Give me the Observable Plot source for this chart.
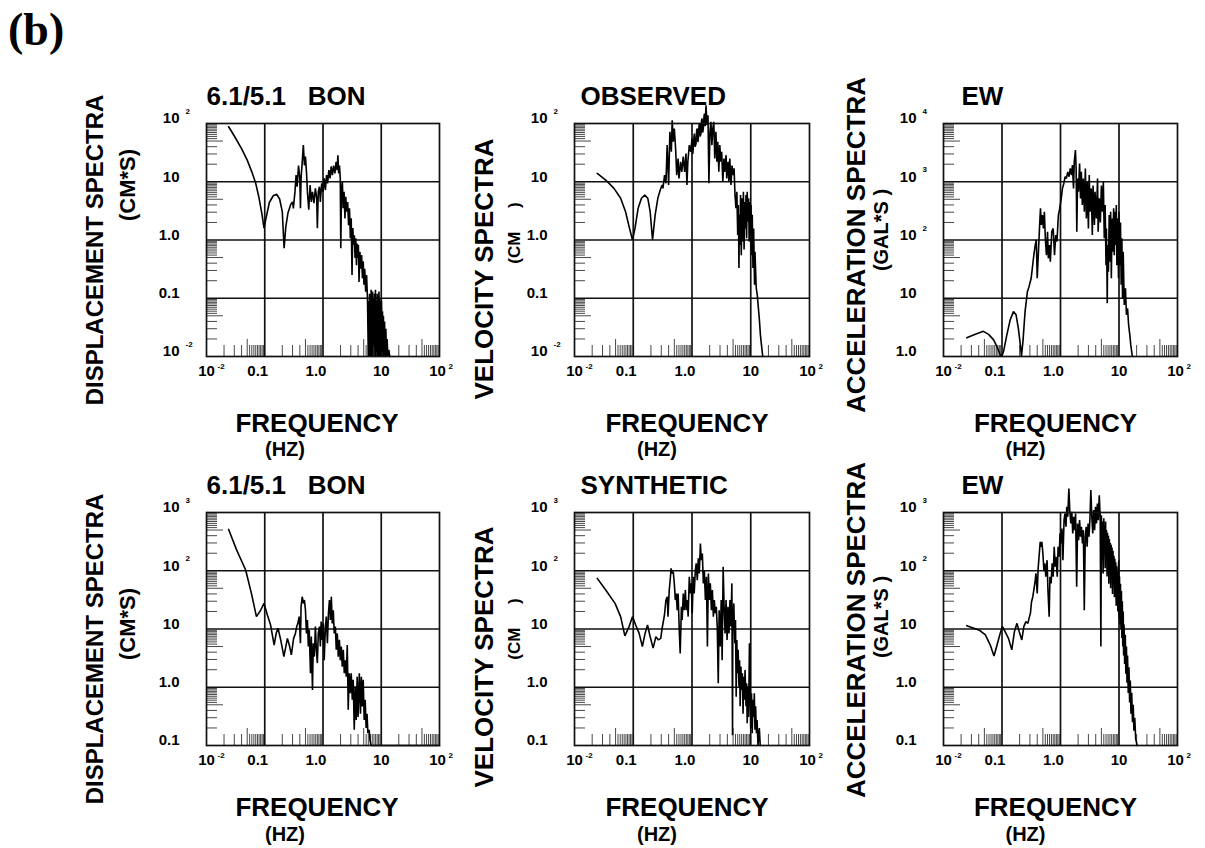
<!DOCTYPE html>
<html><head><meta charset="utf-8">
<script src="https://cdn.jsdelivr.net/npm/d3@7"></script>
<script src="https://cdn.jsdelivr.net/npm/@observablehq/plot@0.6"></script>
<style>
body{margin:0;background:#fff;}
#wrap{position:relative;width:1205px;height:848px;overflow:hidden;background:#fff;font-family:"Liberation Sans",Arial,sans-serif;}
.panel{position:absolute;}
#tag{position:absolute;left:8px;top:0px;font:bold 46px "Liberation Serif","Times New Roman",serif;line-height:60px;}
</style></head><body>
<div id="wrap"><div id="tag">(b)</div></div>
<script>
// ---------- DATA (frequency Hz, amplitude) ----------
const dispObs = [[0.024,88],[0.03,61],[0.04,37],[0.05,23.5],[0.06,14.8],[0.07,9.4],[0.08,5.2],[0.09,2.7],[0.097,1.6],[0.105,2.35],[0.12,4.4],[0.14,5.75],[0.16,6.1],[0.18,5.05],[0.2,3.06],[0.215,0.72],[0.23,1.7],[0.25,2.9],[0.28,4.1],[0.3,4.5],[0.31,3.5],[0.33,6.7],[0.345,13],[0.36,8.2],[0.38,19],[0.4,11.4],[0.41,3.5],[0.42,11.4],[0.44,22],[0.46,42.5],[0.48,19],[0.5,27],[0.52,14.8],[0.54,6.7],[0.57,3.3],[0.6,8.8],[0.63,4.5],[0.66,6.7],[0.7,4.3],[0.74,7.7],[0.78,5.2],[0.8,1.6],[0.83,6.7],[0.87,8.2],[0.9,4.5],[0.95,9.4],[1.0,6.7],[1.05,11.4],[1.1,7.2],[1.15,13],[1.2,9.4],[1.26,15.8],[1.32,11.4],[1.38,18.3],[1.45,13],[1.52,19],[1.6,13.9],[1.68,22],[1.75,15.8],[1.8,28.6],[1.86,13.9],[1.92,19],[1.98,11.4],[2.02,0.72],[2.08,7.2],[2.15,10],[2.22,3.5],[2.3,6.7],[2.38,2.35],[2.46,5.5],[2.55,3.06],[2.65,4.5],[2.75,1.8],[2.85,3.5],[2.95,1.07],[3.05,2.35],[3.15,0.25],[3.25,1.6],[3.35,0.83],[3.45,1.2],[3.55,0.49],[3.65,1.07],[3.75,0.37],[3.85,0.87],[3.95,0.49],[4.05,0.83],[4.15,0.19],[4.3,0.63],[4.45,0.32],[4.6,0.55],[4.75,0.22],[4.9,0.43],[5.05,0.17],[5.2,0.32],[5.4,0.13],[5.6,0.25],[5.8,0.1],[6.0,0.01],[6.1,0.09],[6.2,0.01],[6.3,0.12],[6.4,0.012],[6.5,0.1],[6.6,0.01],[6.7,0.14],[6.8,0.02],[6.9,0.11],[7.0,0.01],[7.1,0.13],[7.2,0.01],[7.35,0.1],[7.5,0.015],[7.65,0.12],[7.8,0.01],[7.95,0.14],[8.1,0.01],[8.25,0.09],[8.4,0.012],[8.55,0.12],[8.7,0.01],[8.85,0.11],[9.0,0.01],[9.15,0.13],[9.3,0.015],[9.45,0.1],[9.6,0.01],[9.75,0.08],[9.9,0.01],[10.1,0.09],[10.3,0.012],[10.5,0.06],[10.7,0.01],[10.9,0.05],[11.1,0.01],[11.4,0.04],[11.7,0.01],[12.0,0.03],[12.3,0.01],[12.6,0.02],[13.0,0.01],[13.5,0.013],[14.0,0.01]];

const velObs = [[0.0244,13.9],[0.034,10.7],[0.047,7.7],[0.061,5.2],[0.074,3.06],[0.085,1.7],[0.097,1.0],[0.107,1.58],[0.121,3.5],[0.138,5.2],[0.157,5.9],[0.177,5.2],[0.194,3.06],[0.213,1.0],[0.236,2.7],[0.262,5.2],[0.288,7.2],[0.31,8.8],[0.32,7.7],[0.341,13],[0.36,9.4],[0.378,42.5],[0.4,8.8],[0.42,72],[0.445,32.7],[0.46,114],[0.48,48.5],[0.5,82],[0.526,37],[0.55,13],[0.58,25],[0.6,11.4],[0.64,22],[0.67,14.8],[0.71,27],[0.75,14.8],[0.79,30.6],[0.82,8.8],[0.85,22],[0.9,42.5],[0.95,32.7],[1.0,55],[1.03,30],[1.05,37],[1.08,60],[1.1,67],[1.13,40],[1.17,45],[1.2,75],[1.23,82],[1.26,48],[1.28,55],[1.32,95],[1.35,100],[1.38,60],[1.42,67],[1.45,110],[1.48,122],[1.52,70],[1.56,82],[1.6,130],[1.63,148],[1.68,90],[1.73,206],[1.8,94],[1.87,139],[1.94,9.4],[2.02,72],[2.1,107],[2.18,42.5],[2.26,82],[2.35,107],[2.44,25],[2.55,72],[2.65,22],[2.75,48.5],[2.86,14.8],[2.97,42.5],[3.1,22],[3.2,32.7],[3.35,10],[3.5,25],[3.6,14.8],[3.8,28.6],[3.9,11.4],[4.1,22],[4.25,10],[4.4,25],[4.6,8.8],[4.8,19],[5.0,13],[5.2,17],[5.4,5.9],[5.6,3.5],[5.8,6.7],[6.0,1.22],[6.15,4.0],[6.3,0.33],[6.4,2.7],[6.6,0.82],[6.7,5.9],[6.9,0.55],[7.1,5.2],[7.3,0.94],[7.5,6.7],[7.7,0.69],[7.9,4.5],[8.1,1.58],[8.3,5.9],[8.5,1.07],[8.7,6.7],[9.0,2.06],[9.2,5.2],[9.4,0.94],[9.7,4.5],[9.9,1.22],[10.1,4.0],[10.4,0.55],[10.6,2.7],[10.9,0.33],[11.2,1.58],[11.6,0.17],[11.8,0.63],[12.4,0.15],[12.9,0.114],[13.5,0.067],[14.1,0.04],[14.6,0.0235],[15.2,0.016],[16.0,0.01]];

const accObs = [[0.025,2.1],[0.035,2.4],[0.048,2.7],[0.059,2.4],[0.072,1.93],[0.082,1.48],[0.093,1.07],[0.099,1.0],[0.107,1.26],[0.121,2.35],[0.138,4.25],[0.157,5.9],[0.174,5.2],[0.19,3.06],[0.206,1.58],[0.215,1.0],[0.228,1.8],[0.248,5.9],[0.272,13],[0.29,15.8],[0.315,22],[0.33,32.7],[0.35,55],[0.37,82],[0.386,100],[0.4,22],[0.42,63],[0.44,181],[0.455,349],[0.47,181],[0.49,268],[0.51,158],[0.53,306],[0.55,107],[0.575,55],[0.6,139],[0.62,48.5],[0.65,82],[0.67,42.5],[0.71,139],[0.75,158],[0.79,55],[0.83,122],[0.87,94],[0.92,268],[0.97,349],[1.03,518],[1.08,769],[1.14,935],[1.2,1220],[1.26,1140],[1.33,1480],[1.4,1220],[1.47,1690],[1.55,1300],[1.6,1930],[1.67,769],[1.72,2200],[1.8,3490],[1.85,1690],[1.9,139],[1.96,1140],[2.03,675],[2.12,2060],[2.2,518],[2.27,1480],[2.36,398],[2.45,1140],[2.56,306],[2.66,1690],[2.77,235],[2.88,1000],[3.0,158],[3.1,1300],[3.2,306],[3.35,769],[3.5,122],[3.6,860],[3.8,181],[3.9,675],[4.1,235],[4.3,1140],[4.4,139],[4.6,518],[4.8,200],[5.0,860],[5.2,306],[5.4,1000],[5.6,107],[5.8,398],[6.0,37],[6.1,158],[6.3,8.2],[6.4,82],[6.6,28.6],[6.8,268],[7.0,42.5],[7.2,306],[7.4,22],[7.6,235],[7.8,63],[8.1,349],[8.3,55],[8.5,306],[8.7,82],[9.0,398],[9.2,37],[9.5,235],[9.8,22],[10.0,306],[10.3,37],[10.6,200],[10.9,17],[11.2,107],[11.5,10],[11.8,63],[12.3,7.7],[12.9,14.8],[13.4,5.2],[14.0,6.7],[14.6,3.5],[15.3,2.35],[15.9,1.58],[16.9,1.0]];

const dispSyn = [[0.024,512],[0.033,226],[0.047,103],[0.059,40.8],[0.072,16.3],[0.085,21],[0.097,27.5],[0.111,17.4],[0.126,11.7],[0.145,5.3],[0.157,8.4],[0.169,10.3],[0.188,6.5],[0.213,3.36],[0.245,6.9],[0.268,5.0],[0.286,3.6],[0.313,6.9],[0.336,8.4],[0.354,11],[0.37,12.5],[0.39,16.3],[0.41,5.7],[0.42,24],[0.44,35.8],[0.46,27.5],[0.48,31.4],[0.5,21],[0.52,8.4],[0.54,14.3],[0.56,5.0],[0.58,9.6],[0.61,1.74],[0.63,7.4],[0.66,0.9],[0.68,5.7],[0.71,3.36],[0.74,11],[0.77,4.4],[0.8,2.6],[0.83,8.4],[0.87,11],[0.9,5.0],[0.93,13.4],[0.97,6.5],[1.01,12.5],[1.05,2.9],[1.1,11],[1.14,16.3],[1.19,5.7],[1.24,18.6],[1.29,31.4],[1.34,14.3],[1.39,35.8],[1.44,12.5],[1.5,21],[1.56,8.4],[1.63,11],[1.69,4.4],[1.76,8.4],[1.83,3.36],[1.91,6.5],[1.98,2.9],[2.06,5.0],[2.14,2.26],[2.23,4.4],[2.32,1.74],[2.41,2.9],[2.51,1.52],[2.61,5.3],[2.71,0.41],[2.82,1.74],[2.94,0.79],[3.05,1.74],[3.18,0.61],[3.3,1.34],[3.44,0.186],[3.57,1.03],[3.72,0.275],[3.86,1.52],[4.0,0.31],[4.2,1.74],[4.4,0.35],[4.55,1.52],[4.7,0.47],[4.9,1.34],[5.1,0.275],[5.3,0.61],[5.5,0.2],[5.7,0.35],[5.9,0.163],[6.2,0.186],[6.4,0.125],[6.7,0.1],[100,0.1]];

const velSyn = [[0.0244,74],[0.034,46.7],[0.049,27.5],[0.061,16.3],[0.072,7.6],[0.085,11],[0.097,16.3],[0.11,11.7],[0.126,8.4],[0.143,5.0],[0.159,8.4],[0.175,11.7],[0.191,7.9],[0.218,4.7],[0.243,7.4],[0.268,6.5],[0.294,6.9],[0.31,10.3],[0.34,17.4],[0.36,31.4],[0.38,35.8],[0.39,16.3],[0.41,46.7],[0.43,79],[0.44,110],[0.46,90],[0.48,96],[0.5,60.7],[0.52,31.4],[0.54,40.8],[0.56,21],[0.58,40.8],[0.61,8.4],[0.63,3.8],[0.66,24],[0.68,14.3],[0.71,40.8],[0.74,21],[0.77,46.7],[0.8,21],[0.83,31.4],[0.86,16.3],[0.9,79],[0.94,40.8],[0.97,60.7],[1.01,18.6],[1.05,79],[1.09,40.8],[1.14,103],[1.18,134],[1.23,69],[1.28,163],[1.33,90],[1.39,294],[1.44,152],[1.5,198],[1.56,60.7],[1.62,103],[1.69,31.4],[1.76,79],[1.83,5.0],[1.9,90],[1.98,31.4],[2.05,60.7],[2.14,21],[2.22,46.7],[2.31,16.3],[2.4,31.4],[2.49,18.6],[2.59,24],[2.69,11],[2.8,1.17],[2.9,21],[3.02,5.0],[3.14,31.4],[3.26,2.9],[3.39,117],[3.52,24],[3.66,8.4],[3.8,31.4],[3.95,6.5],[4.1,24],[4.26,8.4],[4.43,31.4],[4.6,11],[4.77,60.7],[4.9,0.15],[4.95,14.3],[5.15,27.5],[5.35,5.7],[5.5,14.3],[5.65,0.69],[5.8,6.5],[5.95,1.74],[6.1,4.4],[6.3,1.03],[6.45,2.9],[6.6,0.47],[6.8,2.26],[7.0,0.9],[7.2,1.74],[7.4,0.35],[7.6,1.52],[7.8,0.61],[8.0,1.98],[8.3,0.47],[8.5,1.17],[8.7,0.24],[9.0,1.03],[9.2,0.31],[9.5,5.7],[9.8,0.79],[10.0,0.2],[10.3,0.79],[10.6,0.163],[10.9,0.61],[11.2,0.31],[11.5,0.79],[11.8,0.186],[12.1,0.47],[12.5,0.163],[12.8,0.275],[13.3,0.1],[14.0,0.2],[14.5,0.1]];

const accSyn = [[0.025,11.4],[0.033,10.3],[0.042,9.4],[0.052,7.9],[0.063,5.3],[0.073,3.44],[0.081,5.0],[0.093,8.4],[0.102,11],[0.113,9.0],[0.129,6.9],[0.147,4.4],[0.163,9.0],[0.18,12.5],[0.197,9.0],[0.218,6.5],[0.236,11],[0.256,13.4],[0.277,12.5],[0.29,15.2],[0.306,18.6],[0.32,29.4],[0.336,35.8],[0.35,46.7],[0.37,69],[0.38,90],[0.4,40.8],[0.415,110],[0.43,174],[0.45,314],[0.465,258],[0.48,314],[0.5,198],[0.52,103],[0.54,134],[0.56,79],[0.59,152],[0.61,46.7],[0.64,16.3],[0.66,79],[0.69,60.7],[0.72,134],[0.75,79],[0.78,258],[0.81,117],[0.84,174],[0.88,79],[0.91,258],[0.95,174],[0.98,437],[1.02,294],[1.06,532],[1.1,152],[1.15,739],[1.19,962],[1.24,568],[1.28,1250],[1.33,843],[1.39,2580],[1.44,1100],[1.5,647],[1.56,1030],[1.62,437],[1.68,843],[1.75,498],[1.81,962],[1.89,53],[1.96,647],[2.04,336],[2.12,739],[2.2,383],[2.28,568],[2.37,294],[2.46,498],[2.55,21],[2.65,383],[2.75,568],[2.85,258],[2.96,647],[3.07,383],[3.18,739],[3.3,2420],[3.43,843],[3.56,437],[3.69,1100],[3.83,498],[3.97,1250],[4.12,647],[4.27,1430],[4.43,739],[4.6,1980],[4.77,843],[4.9,5.0],[5.0,900],[5.1,150],[5.2,700],[5.35,90],[5.5,800],[5.6,200],[5.7,600],[5.8,110],[5.9,700],[6.0,150],[6.1,500],[6.25,80],[6.35,450],[6.5,120],[6.6,400],[6.7,60],[6.85,350],[6.95,90],[7.1,300],[7.2,50],[7.35,280],[7.5,70],[7.6,250],[7.75,40],[7.9,220],[8.05,60],[8.2,180],[8.35,35],[8.5,160],[8.65,45],[8.8,140],[8.95,25],[9.1,120],[9.25,30],[9.4,100],[9.55,20],[9.7,90],[9.9,152],[10.05,15],[10.2,80],[10.4,12],[10.6,60],[10.8,10],[11.0,45],[11.2,7],[11.4,30],[11.6,5],[11.8,20],[12.0,3.5],[12.2,12],[12.5,2.5],[12.8,8],[13.1,1.7],[13.4,5],[13.7,1.2],[14.0,3.5],[14.4,0.8],[14.8,2.2],[15.2,0.55],[15.6,1.3],[16.0,0.35],[16.5,0.8],[17.0,0.25],[17.5,0.5],[18.0,0.18],[18.6,0.3],[19.3,0.13],[20.4,0.1]];

// tick labels: [value, base text, exponent]
const xTickLabels = [[0.01,"10","-2"],[0.1,"0.1",""],[1,"1.0",""],[10,"10",""],[100,"10","2"]];
const ticksE2 = [[0.01,"10","-2"],[0.1,"0.1",""],[1,"1.0",""],[10,"10",""],[100,"10","2"]];
const ticksAccObs = [[1,"1.0",""],[10,"10",""],[100,"10","2"],[1000,"10","3"],[10000,"10","4"]];
const ticksSyn = [[0.1,"0.1",""],[1,"1.0",""],[10,"10",""],[100,"10","2"],[1000,"10","3"]];
const xDomain = [0.01, 100];
const minorMult = [2,3,4,5.5,6,6.5,7,7.5,8,8.5,9,9.5];
const longMult = [5];

const titles = ["6.1/5.1\u00a0\u00a0\u00a0BON","OBSERVED","EW","6.1/5.1\u00a0\u00a0\u00a0BON","SYNTHETIC","EW"];
const yTitles = ["DISPLACEMENT SPECTRA","VELOCITY SPECTRA","ACCELERATION SPECTRA","DISPLACEMENT SPECTRA","VELOCITY SPECTRA","ACCELERATION SPECTRA"];
const units = ["(CM*S)","(CM\u00a0\u00a0\u00a0\u00a0\u00a0)","(GAL*S\u00a0)","(CM*S)","(CM\u00a0\u00a0\u00a0\u00a0\u00a0)","(GAL*S\u00a0)"];
const series = [dispObs, velObs, accObs, dispSyn, velSyn, accSyn];
const yDomains = [[0.01,100],[0.01,100],[1,10000],[0.1,1000],[0.1,1000],[0.1,1000]];
const yTickSets = [ticksE2, ticksE2, ticksAccObs, ticksSyn, ticksSyn, ticksSyn];
const xTitle = "FREQUENCY";
const xUnit = "(HZ)";

// ---------- LAYOUT ----------
const cols = [
  {left:66, mL:140, fw:233, mR:26, yTdx:-111, uDx:-79, tDx:0, fDx:-6, hDx:-38, uSize:22, ySize:24},
  {left:465, mL:109, fw:235, mR:29, yTdx:-90, uDx:-60, tDx:6, fDx:-5, hDx:-35, uSize:17, ySize:26},
  {left:838, mL:105, fw:234, mR:28, yTdx:-87, uDx:-62, tDx:18, fDx:-5, hDx:-35, uSize:20, ySize:26}
];
const rows = [
  {top:78, mT:45, fh:233, mB:111, fDy:75, hDy:99},
  {top:467, mT:45, fh:233, mB:103, fDy:70, hDy:95}
];
const yTitleDy = [10, 29, 5, 20, 28, 1];
const unitDy = [-55, -7, -10, -5, 0, -12];

const wrap = document.getElementById("wrap");
const INK = "#111";

function makePanel(i) {
  const c = cols[i % 3], r = rows[Math.floor(i / 3)];
  const [y0, y1] = yDomains[i];
  const xDec = d3.range(Math.log10(xDomain[0]), Math.log10(xDomain[1])).map(e => Math.pow(10, e));
  const yDec = d3.range(Math.round(Math.log10(y0)), Math.round(Math.log10(y1))).map(e => Math.pow(10, e));
  const xGrid = xDec.slice(1);
  const yGrid = yDec.slice(1);
  const xMinor = xDec.flatMap(d => minorMult.map(m => d * m));
  const xLong = xDec.flatMap(d => longMult.map(m => d * m));
  const yMinor = yDec.flatMap(d => minorMult.map(m => d * m));
  const yLong = yDec.flatMap(d => longMult.map(m => d * m));
  const yt = yTickSets[i];
  const bold = {fontWeight: "bold"};
  const xLabDx = d => d[1].includes(".") ? -7 : (d[0] >= 100 ? -2 : 0);

  const svg = Plot.plot({
    width: c.mL + c.fw + c.mR,
    height: r.mT + r.fh + r.mB,
    marginLeft: c.mL, marginRight: c.mR, marginTop: r.mT, marginBottom: r.mB,
    x: {type: "log", domain: xDomain, axis: null},
    y: {type: "log", domain: [y0, y1], axis: null},
    style: {fontFamily: "'Liberation Sans', Arial, sans-serif", background: "transparent", overflow: "visible", color: "#000"},
    marks: [
      Plot.ruleX(xGrid, {stroke: INK, strokeWidth: 1.7}),
      Plot.ruleY(yGrid, {stroke: INK, strokeWidth: 1.7}),
      Plot.ruleX(xMinor, {stroke: "#333", strokeWidth: 0.9, insetTop: r.fh - 11}),
      Plot.ruleX(xLong, {stroke: "#333", strokeWidth: 0.9, insetTop: r.fh - 17}),
      Plot.ruleY(yMinor, {stroke: "#333", strokeWidth: 0.9, insetRight: c.fw - 11}),
      Plot.ruleY(yLong, {stroke: "#333", strokeWidth: 0.9, insetRight: c.fw - 17}),
      Plot.line(series[i], {x: d => d[0], y: d => d[1], stroke: "#000", strokeWidth: 1.6, strokeLinejoin: "miter"}),
      Plot.frame({stroke: INK, strokeWidth: 1.7}),
      // y tick labels
      Plot.text(yt, {y: d => d[0], text: d => d[1], frameAnchor: "left", textAnchor: "end", dx: -27, dy: -5, fontSize: 15, ...bold}),
      Plot.text(yt.filter(d => d[2]), {y: d => d[0], text: d => d[2], frameAnchor: "left", textAnchor: "start", dx: -21, dy: -12, fontSize: 8, ...bold}),
      // x tick labels
      ...xTickLabels.map(d => Plot.text([d], {x: e => e[0], text: e => e[1], frameAnchor: "bottom", textAnchor: "middle", dy: 19, dx: xLabDx(d), fontSize: 15, ...bold})),
      ...xTickLabels.filter(d => d[2]).map(d => Plot.text([d], {x: e => e[0], text: e => e[2], frameAnchor: "bottom", textAnchor: "start", dy: 12, dx: xLabDx(d) + 11, fontSize: 8, ...bold})),
      // titles
      Plot.text([titles[i]], {text: d => d, frameAnchor: "top-left", textAnchor: "start", lineAnchor: "bottom", dx: c.tDx, dy: -19, fontSize: 26, ariaLabel: "ptitle", ...bold}),
      Plot.text([yTitles[i]], {text: d => d, frameAnchor: "left", textAnchor: "middle", lineAnchor: "middle", rotate: -90, dx: c.yTdx, dy: yTitleDy[i], fontSize: c.ySize, ariaLabel: "ytitle", ...bold}),
      Plot.text([units[i]], {text: d => d, frameAnchor: "left", textAnchor: "middle", lineAnchor: "middle", rotate: -90, dx: c.uDx, dy: unitDy[i], fontSize: c.uSize, ariaLabel: "ytitle", ...bold}),
      Plot.text([xTitle], {text: d => d, frameAnchor: "bottom", textAnchor: "middle", lineAnchor: "bottom", dx: c.fDx, dy: r.fDy, fontSize: 26, ...bold}),
      Plot.text([xUnit], {text: d => d, frameAnchor: "bottom", textAnchor: "middle", lineAnchor: "bottom", dx: c.hDx, dy: r.hDy, fontSize: 20, ...bold})
    ]
  });
  svg.querySelectorAll('g[aria-label="ptitle"]').forEach(g => g.style.letterSpacing = "1px");
  svg.querySelectorAll('g[aria-label="ytitle"] text').forEach(t => {
    const tr = t.getAttribute("transform");
    if (tr) t.setAttribute("transform", tr + " scale(1,1.18)");
  });
  const div = document.createElement("div");
  div.className = "panel";
  div.style.left = c.left + "px";
  div.style.top = r.top + "px";
  div.style.width = (c.mL + c.fw + c.mR) + "px";
  div.appendChild(svg);
  wrap.appendChild(div);
}
for (let i = 0; i < 6; i++) makePanel(i);
</script>
</body></html>
